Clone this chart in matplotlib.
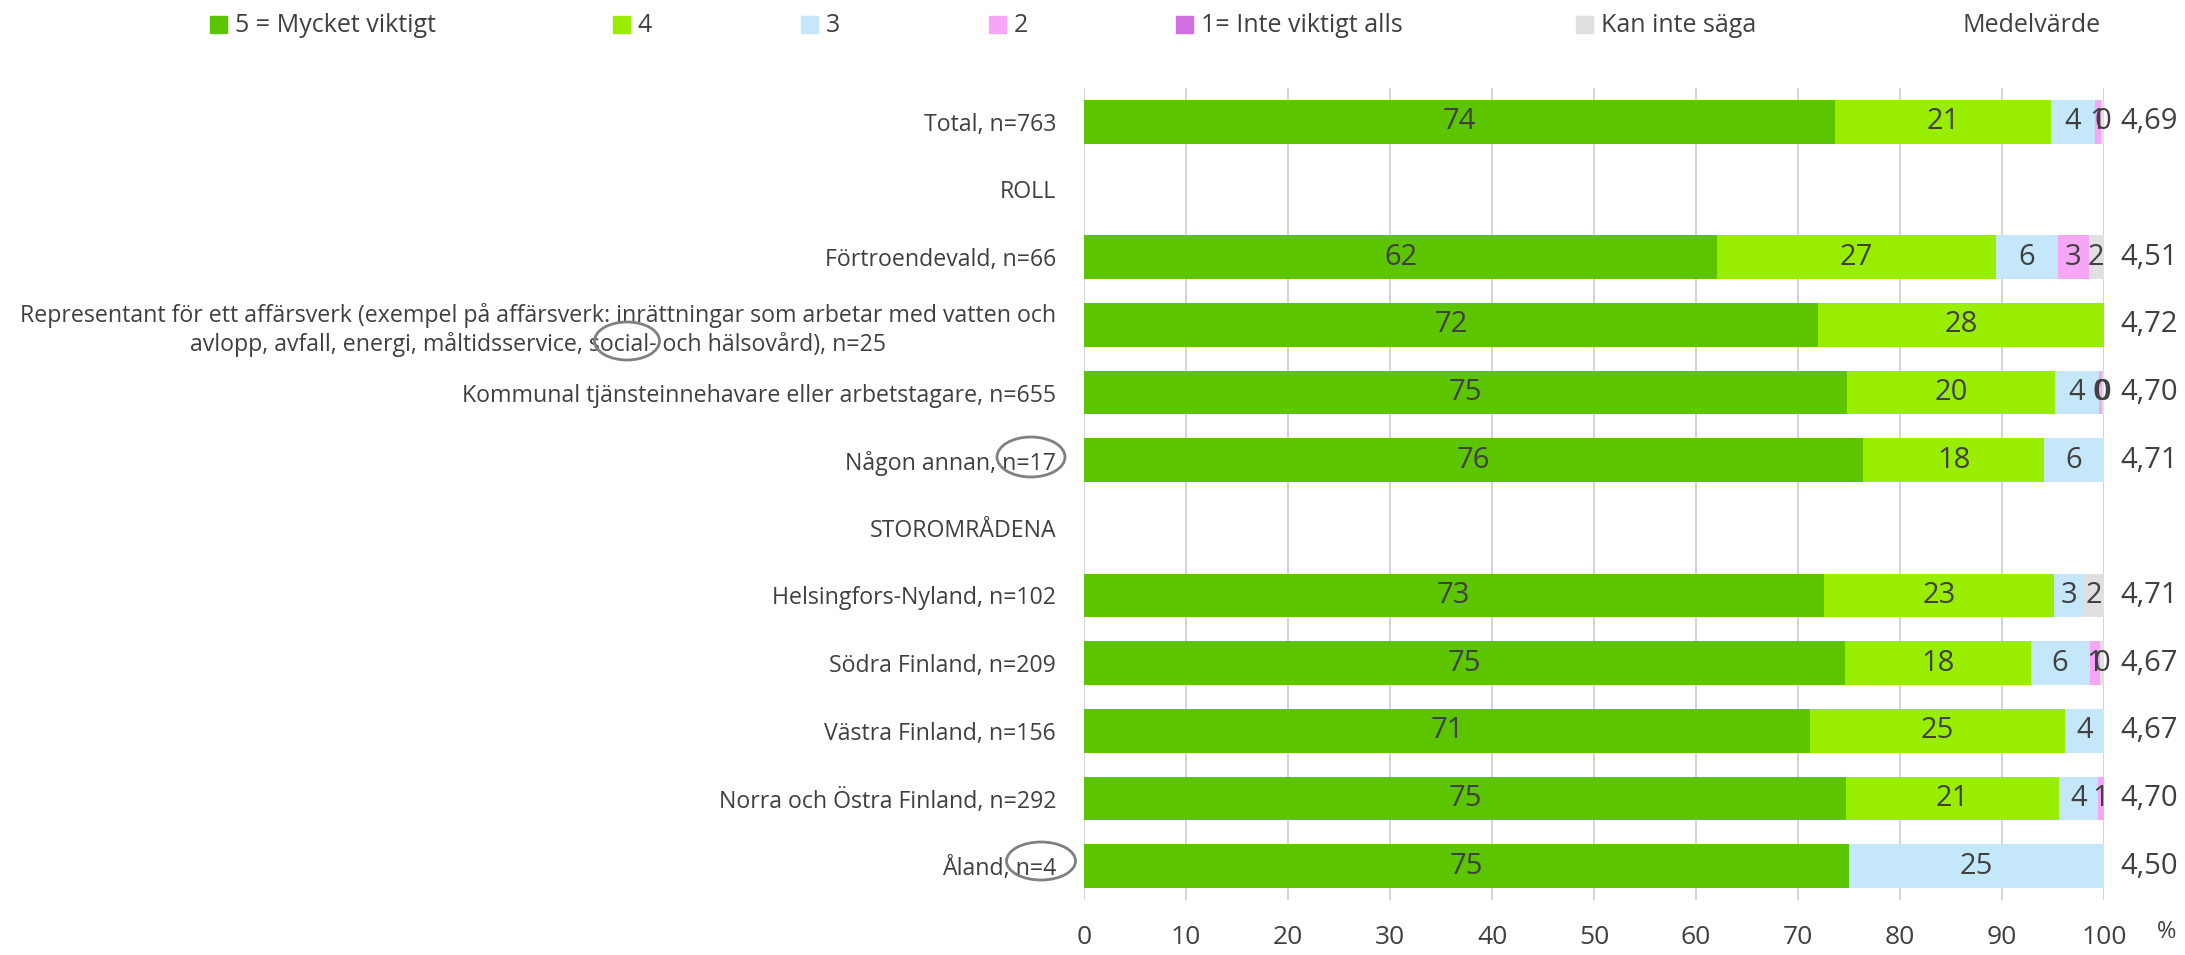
import numpy as np
import matplotlib
matplotlib.use("Agg")
import matplotlib.pyplot as plt
from matplotlib.patches import Ellipse, Rectangle

plt.rcParams['font.family'] = ['Open Sans', 'DejaVu Sans']

categories = [
    "Total, n=763",
    "ROLL",
    "Förtroendevald, n=66",
    "Representant för ett affärsverk (exempel på affärsverk: inrättningar som arbetar med vatten och\n"
    "avlopp, avfall, energi, måltidsservice, social- och hälsovård), n=25",
    "Kommunal tjänsteinnehavare eller arbetstagare, n=655",
    "Någon annan, n=17",
    "STOROMRÅDENA",
    "Helsingfors-Nyland, n=102",
    "Södra Finland, n=209",
    "Västra Finland, n=156",
    "Norra och Östra Finland, n=292",
    "Åland, n=4",
]

v5 = [73.6, 0, 62.1, 72.0, 74.8, 76.4, 0, 72.5, 74.6, 71.2, 74.7, 75.0]
v4 = [21.2, 0, 27.3, 28.0, 20.4, 17.7, 0, 22.6, 18.2, 25.0, 20.9, 0.0]
v3 = [4.3, 0, 6.1, 0.0, 4.3, 5.9, 0, 2.9, 5.8, 3.8, 3.8, 25.0]
v2 = [0.6, 0, 3.0, 0.0, 0.3, 0.0, 0, 0.0, 1.0, 0.0, 0.6, 0.0]
v1 = [0.0, 0, 0.0, 0.0, 0.0, 0.0, 0, 0.0, 0.0, 0.0, 0.0, 0.0]
vkan = [0.3, 0, 1.5, 0.0, 0.2, 0.0, 0, 2.0, 0.4, 0.0, 0.0, 0.0]
means = [4.69, None, 4.51, 4.72, 4.70, 4.71, None, 4.71, 4.67, 4.67, 4.70, 4.50]

series_names = ["5 = Mycket viktigt", "4", "3", "2", "1= Inte viktigt alls", "Kan inte säga"]
series_colors = ["#5CC500", "#99EE00", "#C4E8FA", "#F5A6F5", "#D070E0", "#E0E0E0"]
series = [v5, v4, v3, v2, v1, vkan]

txt = "#404040"
W, H = 2185, 955
fig = plt.figure(figsize=(W / 100, H / 100), dpi=100)
ax = fig.add_axes([1084 / W, 1 - 900 / H, 1020 / W, 812 / H])

y = np.arange(len(categories))
left = np.zeros(len(categories))
for vals, col in zip(series, series_colors):
    vals = np.array(vals, dtype=float)
    ax.barh(y, vals, left=left, height=0.65, color=col, zorder=2)
    for yi, (l, v) in enumerate(zip(left, vals)):
        if v > 0.05:
            ax.text(l + v / 2, yi, f"{int(v + 0.5)}", ha="center", va="center",
                    fontsize=21, color=txt, zorder=3)
    left += vals

for yi, m in enumerate(means):
    if m is not None:
        ax.text(104.4, yi, f"{m:.2f}".replace(".", ","), ha="center", va="center",
                fontsize=21, color=txt, clip_on=False)

ax.set_xlim(0, 100)
ax.set_ylim(len(categories) - 0.5, -0.5)
ax.set_xticks(range(0, 101, 10))
ax.set_yticks(y)
ax.set_yticklabels(categories)
ax.get_yticklabels()[3].set_multialignment("center")
ax.tick_params(axis="y", length=0, pad=20, labelsize=16.7, labelcolor=txt)
ax.tick_params(axis="x", length=0, pad=18, labelsize=19, labelcolor=txt)
ax.grid(axis="x", color="#D0D0D0", linewidth=1.3, zorder=0)
for s in ax.spines.values():
    s.set_visible(False)

fig.text(2167 / W, 1 - 932 / H, "%", ha="center", va="center", fontsize=17, color=txt)

# legend drawn by hand
leg_x = [210, 613, 801, 989, 1176, 1576]
for lx, name, col in zip(leg_x, series_names, series_colors):
    fig.patches.append(Rectangle((lx / W, 1 - 33 / H), 17 / W, 17 / H, color=col,
                                 transform=fig.transFigure))
    fig.text((lx + 25) / W, 1 - 25 / H, name, ha="left", va="center",
             fontsize=18, color=txt)
fig.text(2032 / W, 1 - 25 / H, "Medelvärde", ha="center", va="center", fontsize=18, color=txt)

# hand-drawn circles in the original
for cx, cy, ew, eh in [(627, 341, 65, 38), (1031, 457, 68, 40), (1041, 861, 69, 38)]:
    fig.patches.append(Ellipse((cx / W, 1 - cy / H), ew / W, eh / H, fill=False,
                               edgecolor="#808080", linewidth=2,
                               transform=fig.transFigure))

fig.savefig("out.png", dpi=100)
